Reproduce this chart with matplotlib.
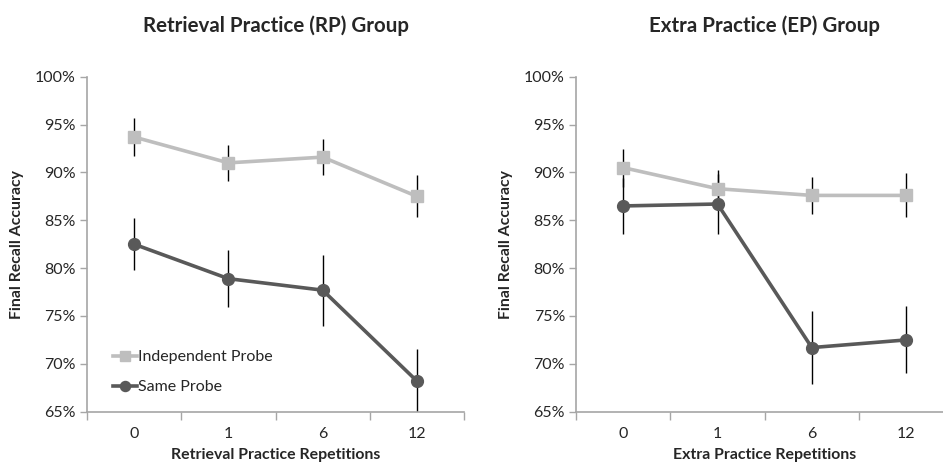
import matplotlib
matplotlib.use("Agg")
import matplotlib.pyplot as plt
from matplotlib.ticker import FixedLocator, FuncFormatter

plt.rcParams['font.family'] = ['Lato', 'DejaVu Sans']

categories = ["0", "1", "6", "12"]

rp_independent = [93.7, 91.0, 91.6, 87.5]
rp_independent_err = [2.0, 1.9, 1.9, 2.2]
rp_same = [82.5, 78.9, 77.7, 68.2]
rp_same_err = [2.7, 3.0, 3.7, 3.4]

ep_independent = [90.5, 88.3, 87.6, 87.6]
ep_independent_err = [2.0, 2.0, 1.9, 2.3]
ep_same = [86.5, 86.7, 71.7, 72.5]
ep_same_err = [2.9, 3.1, 3.8, 3.5]

titles = ["Retrieval Practice (RP) Group", "Extra Practice (EP) Group"]
xlabels = ["Retrieval Practice Repetitions", "Extra Practice Repetitions"]
ylabel = "Final Recall Accuracy"
series_names = ["Independent Probe", "Same Probe"]

light = "#BEBEBE"
dark = "#595959"
spine_c = "#A6A6A6"
text_c = "#262626"

fig = plt.figure(figsize=(9.43, 4.67), dpi=100)
axes = [fig.add_axes([0.0923, 0.1184, 0.3998, 0.7173]),
        fig.add_axes([0.6110, 0.1184, 0.3998, 0.7173])]

data = [(rp_independent, rp_independent_err, rp_same, rp_same_err),
        (ep_independent, ep_independent_err, ep_same, ep_same_err)]

for i, ax in enumerate(axes):
    ind, ind_e, same, same_e = data[i]
    x = list(range(len(categories)))
    ax.errorbar(x, ind, yerr=ind_e, ecolor="black", elinewidth=1.0, capsize=0,
                fmt="none", zorder=2)
    ax.errorbar(x, same, yerr=same_e, ecolor="black", elinewidth=1.0, capsize=0,
                fmt="none", zorder=2)
    ax.plot(x, ind, color=light, lw=2.6, marker="s", ms=8.5, mec=light, mfc=light,
            label=series_names[0], zorder=3)
    ax.plot(x, same, color=dark, lw=2.6, marker="o", ms=8.5, mec=dark, mfc=dark,
            label=series_names[1], zorder=3)
    ax.set_xlim(-0.5, 3.5)
    ax.set_ylim(65, 100)
    ax.set_yticks([65, 70, 75, 80, 85, 90, 95, 100])
    ax.yaxis.set_major_formatter(FuncFormatter(lambda v, p: f"{int(round(v))}%"))
    ax.set_xticks(x)
    ax.set_xticklabels(categories)
    ax.xaxis.set_minor_locator(FixedLocator([-0.5, 0.5, 1.5, 2.5, 3.5]))
    ax.tick_params(axis="x", which="major", length=0, pad=11, labelsize=11.5, colors=text_c)
    ax.tick_params(axis="x", which="minor", length=6, width=1, color=spine_c, direction="out")
    ax.tick_params(axis="y", length=5, width=1, color=spine_c, labelsize=11.5,
                   labelcolor=text_c, pad=3)
    for s in ["top", "right"]:
        ax.spines[s].set_visible(False)
    for s in ["left", "bottom"]:
        ax.spines[s].set_color(spine_c)
        ax.spines[s].set_linewidth(1.2)
    ax.set_title(titles[i], fontsize=14.8, fontweight="bold", color=text_c, pad=32)
    ax.set_xlabel(xlabels[i], fontsize=11.4, fontweight="bold", color=text_c, labelpad=5)
    ax.set_ylabel(ylabel, fontsize=11.3, fontweight="bold", color=text_c, labelpad=8)

leg = axes[0].legend(loc="center left", bbox_to_anchor=(0.03, 0.118), frameon=False,
                     fontsize=11.5, handlelength=1.5, handletextpad=0.1,
                     labelspacing=1.0, markerscale=0.85)
for t in leg.get_texts():
    t.set_color(text_c)

fig.savefig("out.png", dpi=100)
